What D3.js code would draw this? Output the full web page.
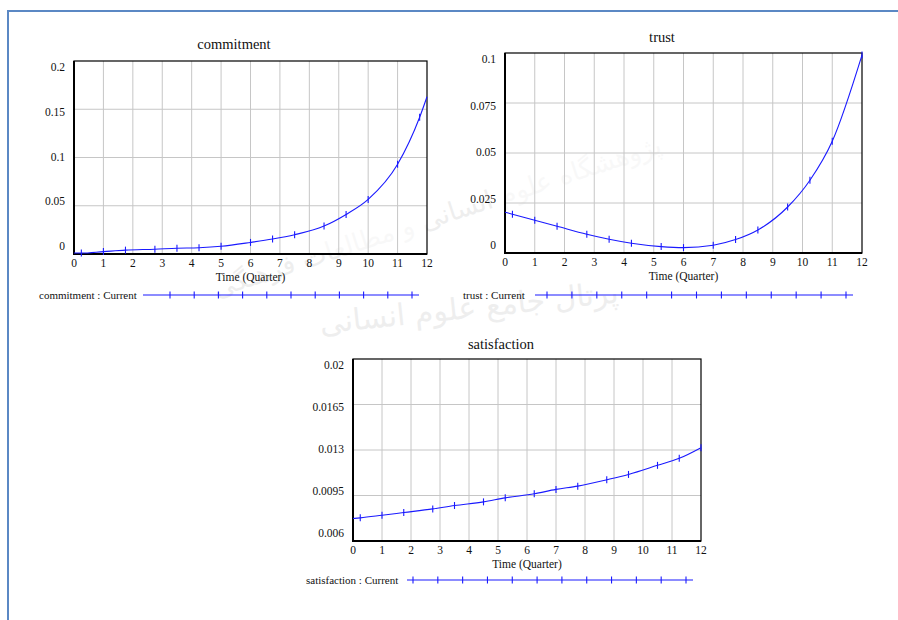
<!DOCTYPE html>
<html>
<head>
<meta charset="utf-8">
<script src="https://cdn.jsdelivr.net/npm/d3@7"></script>
<style>
    body { margin: 0; background: #ffffff; }
    svg { display: block; }
</style>
</head>
<body>
<div id="chart"></div>
<script>
// quarter ticks shared by all three graphs
const quarters = [0, 1, 2, 3, 4, 5, 6, 7, 8, 9, 10, 11, 12];

const commitmentTime  = [0, 0.25, 1, 1.75, 2.75, 3.5, 4.25, 5, 6, 6.75, 7.5, 8.5, 9.25, 10, 11, 11.75, 12];
const commitmentValue = [0.001, 0.001, 0.0025, 0.004, 0.005, 0.006, 0.0065, 0.008, 0.012, 0.0155, 0.02, 0.029, 0.041, 0.0566, 0.093, 0.1417, 0.163];
const commitmentTicks = [0, 0.05, 0.1, 0.15, 0.2];
const commitmentTickLabels = ['0', '0.05', '0.1', '0.15', '0.2'];

const trustTime  = [0, 0.25, 1, 1.75, 2.75, 3.5, 4.25, 5.25, 6, 7, 7.75, 8.5, 9.5, 10.25, 11, 12];
const trustValue = [0.0204, 0.0194, 0.0164, 0.0134, 0.0094, 0.0069, 0.0049, 0.0032, 0.0027, 0.0039, 0.0067, 0.0115, 0.023, 0.0364, 0.0559, 0.099];
const trustTicks = [0, 0.025, 0.05, 0.075, 0.1];
const trustTickLabels = ['0', '0.025', '0.05', '0.075', '0.1'];

const satisfactionTime  = [0, 0.25, 1, 1.75, 2.75, 3.5, 4.5, 5.25, 6.25, 7, 7.75, 8.75, 9.5, 10.5, 11.25, 12];
const satisfactionValue = [0.00773, 0.00778, 0.00798, 0.00819, 0.00847, 0.00873, 0.00901, 0.00932, 0.00963, 0.00997, 0.01022, 0.01071, 0.01112, 0.01182, 0.01236, 0.01318];
const satisfactionTicks = [0.006, 0.0095, 0.013, 0.0165, 0.02];
const satisfactionTickLabels = ['0.006', '0.0095', '0.013', '0.0165', '0.02'];

(function() {
    const width = 898, height = 620;
    const font = '"Liberation Serif", "Times New Roman", serif';
    const line_color = '#1a1aff';

    let svg = d3.select('#chart').append('svg')
        .attr('width', width)
        .attr('height', height)
        .style('font-family', font);

    // faint watermark behind everything
    let wm = svg.append('g')
        .attr('fill', '#c8c8c8')
        .attr('opacity', 0.3)
        .style('font-family', '"DejaVu Sans", sans-serif');
    wm.append('text')
        .attr('transform', 'translate(440,225) rotate(-18)')
        .attr('text-anchor', 'middle')
        .attr('font-size', 26)
        .text('پژوهشگاه علوم انسانی و مطالعات فرهنگی');
    wm.append('text')
        .attr('transform', 'translate(470,318) rotate(-6)')
        .attr('text-anchor', 'middle')
        .attr('font-size', 30)
        .text('پرتال جامع علوم انسانی');

    // page frame (blue top and left rule)
    svg.append('line')
        .attr('x1', 8).attr('x2', width)
        .attr('y1', 11).attr('y2', 11)
        .attr('stroke', '#5b88c4').attr('stroke-width', 2);
    svg.append('line')
        .attr('x1', 8).attr('x2', 8)
        .attr('y1', 10).attr('y2', height)
        .attr('stroke', '#5b88c4').attr('stroke-width', 2);

    let panel = function(fmt, times, values, ticks, tick_labels) {
        let x = d3.scaleLinear().domain([0, 12]).range([fmt.left, fmt.right]),
            y = d3.scaleLinear().domain([ticks[0], ticks[ticks.length - 1]]).range([fmt.bottom, fmt.top]);
        // Vensim pulls the end labels inside the box
        let ylab = d3.scaleLinear().domain(y.domain()).range([fmt.bottom - 8, fmt.top + 6]);

        let g = svg.append('g');

        g.append('rect')
            .attr('x', fmt.left).attr('y', fmt.top)
            .attr('width', fmt.right - fmt.left)
            .attr('height', fmt.bottom - fmt.top)
            .attr('fill', '#ffffff').attr('fill-opacity', 0.6);

        g.append('g').selectAll('line')
            .data(quarters.slice(1, -1))
            .enter().append('line')
            .attr('x1', (d) => x(d)).attr('x2', (d) => x(d))
            .attr('y1', fmt.top).attr('y2', fmt.bottom)
            .attr('stroke', '#c6c6c6');

        g.append('g').selectAll('line')
            .data(ticks.slice(1, -1))
            .enter().append('line')
            .attr('x1', fmt.left).attr('x2', fmt.right)
            .attr('y1', (d) => y(d)).attr('y2', (d) => y(d))
            .attr('stroke', '#c6c6c6');

        g.append('rect')
            .attr('x', fmt.left).attr('y', fmt.top)
            .attr('width', fmt.right - fmt.left)
            .attr('height', fmt.bottom - fmt.top)
            .attr('fill', 'none').attr('stroke', '#000000').attr('stroke-width', 1.2);
        g.append('path')
            .attr('d', `M${fmt.left},${fmt.top}V${fmt.bottom}H${fmt.right}`)
            .attr('fill', 'none').attr('stroke', '#000000').attr('stroke-width', 2);

        g.append('text')
            .attr('x', fmt.title_x).attr('y', fmt.title_y)
            .attr('text-anchor', 'middle')
            .attr('font-size', 14.5)
            .attr('fill', '#111111')
            .text(fmt.title);

        g.append('g').selectAll('text')
            .data(ticks)
            .enter().append('text')
            .attr('x', fmt.left - 9)
            .attr('y', (d) => ylab(d))
            .attr('dy', '0.35em')
            .attr('text-anchor', 'end')
            .attr('font-size', 11.5)
            .attr('fill', '#111111')
            .text((d, i) => tick_labels[i]);

        g.append('g').selectAll('text')
            .data(quarters)
            .enter().append('text')
            .attr('x', (d) => x(d))
            .attr('y', fmt.bottom + 13)
            .attr('text-anchor', 'middle')
            .attr('font-size', 11.5)
            .attr('fill', '#111111')
            .text((d) => d);

        g.append('text')
            .attr('x', (fmt.left + fmt.right) / 2)
            .attr('y', fmt.bottom + 27)
            .attr('text-anchor', 'middle')
            .attr('font-size', 11.5)
            .attr('fill', '#111111')
            .text('Time (Quarter)');

        let data = times.map((t, i) => ({t: t, v: values[i]}));
        let line = d3.line()
            .x((d) => x(d.t))
            .y((d) => y(d.v))
            .curve(d3.curveMonotoneX);

        g.append('path').datum(data)
            .attr('fill', 'none')
            .attr('stroke', line_color)
            .attr('stroke-width', 1.1)
            .attr('d', line);

        let marked = data.filter((d) => d.t > 0 && (fmt.mark_last || d.t < 12));
        g.append('g').selectAll('line')
            .data(marked)
            .enter().append('line')
            .attr('x1', (d) => x(d.t)).attr('x2', (d) => x(d.t))
            .attr('y1', (d) => y(d.v) - 3.5).attr('y2', (d) => y(d.v) + 3.5)
            .attr('stroke', line_color).attr('stroke-width', 1.1);

        // legend
        let lg = g.append('g');
        lg.append('text')
            .attr('x', fmt.legend_x).attr('y', fmt.legend_y + 4)
            .attr('font-size', 11)
            .attr('fill', '#111111')
            .text(fmt.title + ' : Current');
        lg.append('line')
            .attr('x1', fmt.legend_line[0]).attr('x2', fmt.legend_line[1])
            .attr('y1', fmt.legend_y).attr('y2', fmt.legend_y)
            .attr('stroke', line_color).attr('stroke-width', 1.1);
        let step = (fmt.legend_marks[1] - fmt.legend_marks[0]) / (fmt.legend_marks[2] - 1);
        lg.selectAll('line.mk')
            .data(d3.range(fmt.legend_marks[2]))
            .enter().append('line')
            .attr('class', 'mk')
            .attr('x1', (i) => fmt.legend_marks[0] + i * step)
            .attr('x2', (i) => fmt.legend_marks[0] + i * step)
            .attr('y1', fmt.legend_y - 3.5).attr('y2', fmt.legend_y + 3.5)
            .attr('stroke', line_color).attr('stroke-width', 1.1);
    };

    panel({
        title: 'commitment', title_x: 234, title_y: 49,
        left: 74, right: 427, top: 61, bottom: 254,
        legend_x: 39, legend_y: 295, legend_line: [143, 419], legend_marks: [170, 412, 11],
        mark_last: false
    }, commitmentTime, commitmentValue, commitmentTicks, commitmentTickLabels);

    panel({
        title: 'trust', title_x: 662, title_y: 42,
        left: 505, right: 862, top: 53, bottom: 253,
        legend_x: 463, legend_y: 295, legend_line: [535, 853], legend_marks: [547, 846, 13],
        mark_last: true
    }, trustTime, trustValue, trustTicks, trustTickLabels);

    panel({
        title: 'satisfaction', title_x: 501, title_y: 349,
        left: 353, right: 701, top: 359, bottom: 541,
        legend_x: 306, legend_y: 580, legend_line: [407, 693], legend_marks: [413, 686, 12],
        mark_last: true
    }, satisfactionTime, satisfactionValue, satisfactionTicks, satisfactionTickLabels);
}());
</script>
</body>
</html>
